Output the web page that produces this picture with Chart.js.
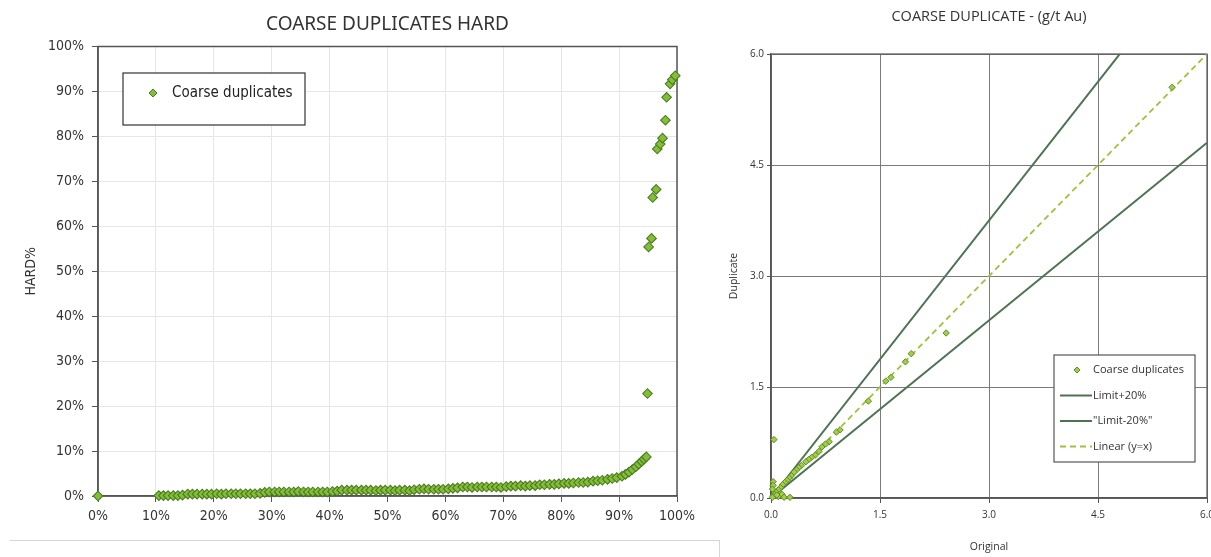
<!DOCTYPE html>
<html>
<head>
<meta charset="utf-8">
<script src="https://cdn.jsdelivr.net/npm/chart.js"></script>
<style>
  html, body { margin: 0; padding: 0; background: #fff; overflow: hidden; }
  #page { position: relative; width: 1211px; height: 557px; overflow: hidden; }
  #hardWrap { position: absolute; left: 0; top: 0; width: 720px; height: 557px; }
  #dupWrap { position: absolute; left: 720px; top: 0; width: 530px; height: 557px; }
  #footBox { position: absolute; left: 10px; top: 540px; width: 709px; height: 30px;
             border-top: 1.5px solid #d6d6d6; border-right: 1.5px solid #d6d6d6; }
</style>
</head>
<body>
<div id="page">
  <div id="hardWrap"><canvas id="hardChart" width="720" height="557"></canvas></div>
  <div id="dupWrap"><canvas id="dupChart" width="530" height="557"></canvas></div>
  <div id="footBox"></div>
</div>
<script>
// HARD plot: cumulative rank (%) vs HARD (%)
const hardRank = [0,
  10.5, 11.3, 12.1, 13.0, 13.8, 14.6, 15.5, 16.3, 17.1, 18.0, 18.8, 19.6, 20.5, 21.3, 22.1,
  23.0, 23.8, 24.6, 25.5, 26.3, 27.1, 28.0, 28.8, 29.6, 30.5, 31.3, 32.1, 33.0, 33.8, 34.6,
  35.5, 36.3, 37.1, 38.0, 38.8, 39.6, 40.5, 41.3, 42.1, 43.0, 43.8, 44.6, 45.5, 46.3, 47.1,
  48.0, 48.8, 49.6, 50.5, 51.3, 52.1, 53.0, 53.8, 54.6, 55.5, 56.3, 57.1, 58.0, 58.8, 59.6,
  60.5, 61.3, 62.1, 63.0, 63.8, 64.6, 65.5, 66.3, 67.1, 68.0, 68.8, 69.6, 70.5, 71.3, 72.1,
  73.0, 73.8, 74.6, 75.5, 76.3, 77.1, 78.0, 78.8, 79.6, 80.5, 81.3, 82.1, 83.0, 83.8, 84.6,
  85.5, 86.3, 87.1, 88.0, 88.8, 89.6, 90.5, 91.1, 91.7, 92.3, 92.9, 93.4, 93.9, 94.3, 94.7,
  94.9, 95.1, 95.6, 95.8, 96.4, 96.6, 97.1, 97.5, 98.0, 98.2, 98.8, 99.2, 99.7];
const hardPct = [0,
  0.1, 0.1, 0.1, 0.1, 0.1, 0.2, 0.4, 0.4, 0.4, 0.4, 0.4, 0.4, 0.5, 0.4, 0.5,
  0.5, 0.5, 0.5, 0.5, 0.5, 0.5, 0.6, 0.8, 0.9, 0.9, 0.9, 0.9, 0.9, 0.9, 1.0,
  0.9, 0.9, 0.9, 0.9, 0.9, 0.9, 1.0, 1.1, 1.3, 1.3, 1.3, 1.3, 1.3, 1.3, 1.3,
  1.2, 1.3, 1.3, 1.3, 1.2, 1.3, 1.3, 1.2, 1.4, 1.5, 1.6, 1.5, 1.5, 1.5, 1.5,
  1.6, 1.7, 1.8, 2.0, 2.0, 1.9, 2.0, 2.0, 2.0, 2.0, 2.0, 1.9, 2.1, 2.2, 2.2,
  2.3, 2.2, 2.3, 2.3, 2.5, 2.5, 2.6, 2.6, 2.7, 2.8, 2.8, 2.9, 3.0, 3.0, 3.1,
  3.3, 3.4, 3.5, 3.7, 3.9, 4.1, 4.4, 4.8, 5.3, 5.9, 6.5, 7.1, 7.7, 8.2, 8.7,
  22.8, 55.4, 57.3, 66.4, 68.2, 77.2, 78.3, 79.6, 83.6, 88.7, 91.7, 92.6, 93.5];
const hardTicks = [0, 10, 20, 30, 40, 50, 60, 70, 80, 90, 100];

// Duplicate plot: original vs duplicate grade (g/t Au)
const origAu = [5.52, 2.41, 1.93, 1.85, 1.65, 1.58, 1.34, 0.95, 0.90, 0.80, 0.75, 0.70, 0.66,
  0.61, 0.56, 0.52, 0.48, 0.42, 0.38, 0.35, 0.32, 0.28, 0.25, 0.22, 0.19, 0.16, 0.13, 0.10,
  0.07, 0.05, 0.03, 0.02, 0.04, 0.03, 0.03, 0.02, 0.10, 0.15, 0.18, 0.26, 0.08];
const dupAu = [5.55, 2.23, 1.95, 1.84, 1.63, 1.58, 1.31, 0.92, 0.89, 0.76, 0.73, 0.69, 0.63,
  0.58, 0.55, 0.52, 0.49, 0.44, 0.41, 0.38, 0.35, 0.30, 0.27, 0.24, 0.21, 0.18, 0.14, 0.11,
  0.08, 0.05, 0.03, 0.01, 0.79, 0.22, 0.17, 0.12, 0.02, 0.05, 0.01, 0.01, 0.04];
const limitX = [0, 6];
const upperLimit = [0, 7.5];   // y = x / 0.8
const lowerLimit = [0, 4.8];   // y = 0.8 x
const oneToOne = [0, 6];
const auTicks = [0, 1.5, 3.0, 4.5, 6.0];

const toPoints = (xs, ys) => xs.map((x, i) => ({ x: x, y: ys[i] }));

// frame round the plot area
const plotFrame = {
  id: 'plotFrame',
  beforeDatasetsDraw(chart, args, opts) {
    const a = chart.chartArea;
    const ctx = chart.ctx;
    ctx.save();
    ctx.strokeStyle = opts.color;
    ctx.lineWidth = opts.width;
    ctx.strokeRect(a.left, a.top, a.right - a.left, a.bottom - a.top);
    ctx.restore();
  }
};

function diamond(ctx, x, y, r) {
  ctx.beginPath();
  ctx.moveTo(x, y - r);
  ctx.lineTo(x + r, y);
  ctx.lineTo(x, y + r);
  ctx.lineTo(x - r, y);
  ctx.closePath();
  ctx.fill();
  ctx.stroke();
}

// boxed legend placed inside the plot
const boxLegend = {
  id: 'boxLegend',
  afterDraw(chart, args, opts) {
    const ctx = chart.ctx;
    ctx.save();
    ctx.fillStyle = '#fff';
    ctx.fillRect(opts.x, opts.y, opts.w, opts.h);
    ctx.strokeStyle = opts.border;
    ctx.lineWidth = 1.2;
    ctx.strokeRect(opts.x, opts.y, opts.w, opts.h);
    ctx.font = opts.font;
    ctx.textBaseline = 'middle';
    chart.data.datasets.forEach((ds, i) => {
      const y = opts.y + opts.first + i * opts.gap;
      if (ds.showLine) {
        ctx.strokeStyle = ds.borderColor;
        ctx.lineWidth = ds.borderWidth;
        ctx.setLineDash(ds.borderDash || []);
        ctx.beginPath();
        ctx.moveTo(opts.lineX0, y);
        ctx.lineTo(opts.lineX1, y);
        ctx.stroke();
        ctx.setLineDash([]);
      } else {
        ctx.fillStyle = ds.backgroundColor;
        ctx.strokeStyle = ds.borderColor;
        ctx.lineWidth = 1;
        diamond(ctx, opts.markX, y, opts.markR);
      }
      ctx.fillStyle = opts.color;
      ctx.fillText(ds.label, opts.textX, y);
    });
    ctx.restore();
  }
};

const leftFont = '"Liberation Sans Narrow", "DejaVu Sans Condensed", sans-serif';
const rightFont = '"Open Sans", "Noto Sans", sans-serif';

new Chart(document.getElementById('hardChart'), {
  type: 'scatter',
  data: {
    datasets: [{
      label: 'Coarse duplicates',
      data: toPoints(hardRank, hardPct),
      pointStyle: 'rectRot',
      pointRadius: 4.8,
      backgroundColor: '#83bf34',
      borderColor: '#4c7a25',
      pointBorderWidth: 1.1,
      clip: false
    }]
  },
  options: {
    responsive: false,
    animation: false,
    layout: { padding: { left: 0, right: 43, top: 0, bottom: 0 } },
    plugins: {
      legend: { display: false },
      tooltip: { enabled: false },
      title: {
        display: true,
        text: 'COARSE DUPLICATES HARD',
        fullSize: false,
        color: '#333',
        font: { family: '"Noto Sans", sans-serif', size: 19, weight: 'normal' },
        padding: { top: 13.6, bottom: 10.1 }
      },
      plotFrame: { color: '#555', width: 1.5 },
      boxLegend: {
        x: 123, y: 73, w: 182, h: 52, first: 20, gap: 24,
        markX: 153, markR: 4, textX: 172, lineX0: 0, lineX1: 0,
        font: '15px ' + leftFont, color: '#222', border: '#333'
      }
    },
    scales: {
      x: {
        type: 'linear', min: 0, max: 100,
        afterFit: s => { s.height = 61; },
        afterBuildTicks: s => { s.ticks = hardTicks.map(v => ({ value: v })); },
        grid: { color: '#e6e6e6', tickColor: '#555', tickLength: 6 },
        border: { color: '#555', width: 1.5 },
        ticks: { padding: 6, color: '#333', font: { family: leftFont, size: 14 }, callback: v => v + '%' }
      },
      y: {
        type: 'linear', min: 0, max: 100,
        afterFit: s => { s.width = 98; },
        afterBuildTicks: s => { s.ticks = hardTicks.map(v => ({ value: v })); },
        grid: { color: '#e6e6e6', tickColor: '#555', tickLength: 6 },
        border: { color: '#555', width: 1.5 },
        title: { display: true, text: 'HARD%', color: '#333', font: { family: leftFont, size: 14 }, padding: { top: 23, bottom: 0 } },
        ticks: { padding: 8, color: '#333', font: { family: leftFont, size: 14 }, callback: v => v + '%' }
      }
    }
  },
  plugins: [plotFrame, boxLegend]
});

new Chart(document.getElementById('dupChart'), {
  type: 'scatter',
  data: {
    datasets: [
      {
        label: 'Coarse duplicates',
        data: toPoints(origAu, dupAu),
        pointStyle: 'rectRot',
        pointRadius: 3.2,
        backgroundColor: '#a3cd46',
        borderColor: '#5d8c2a',
        pointBorderWidth: 1,
        clip: false,
        order: 0
      },
      {
        label: 'Limit+20%',
        data: toPoints(limitX, upperLimit),
        showLine: true, pointRadius: 0,
        borderColor: '#4d7352', borderWidth: 2, order: 1
      },
      {
        label: '"Limit-20%"',
        data: toPoints(limitX, lowerLimit),
        showLine: true, pointRadius: 0,
        borderColor: '#4d7352', borderWidth: 2, order: 1
      },
      {
        label: 'Linear (y=x)',
        data: toPoints(limitX, oneToOne),
        showLine: true, pointRadius: 0,
        borderColor: '#9cc43a', borderWidth: 1.8, borderDash: [6, 4], order: 1
      }
    ]
  },
  options: {
    responsive: false,
    animation: false,
    layout: { padding: { left: 0, right: 43, top: 0, bottom: 0 } },
    plugins: {
      legend: { display: false },
      tooltip: { enabled: false },
      title: {
        display: true,
        text: 'COARSE DUPLICATE - (g/t Au)',
        fullSize: false,
        color: '#333',
        font: { family: rightFont, size: 14.5, weight: 'normal' },
        padding: { top: 8.3, bottom: 28.3 }
      },
      plotFrame: { color: '#555', width: 1.2 },
      boxLegend: {
        x: 334, y: 355, w: 141, h: 107, first: 15, gap: 25.5,
        markX: 357, markR: 3, textX: 373, lineX0: 340, lineX1: 372,
        font: '11px ' + rightFont, color: '#333', border: '#555'
      }
    },
    scales: {
      x: {
        type: 'linear', min: 0, max: 6,
        afterFit: s => { s.height = 59; },
        afterBuildTicks: s => { s.ticks = auTicks.map(v => ({ value: v })); },
        grid: { color: '#7a7a7a', tickColor: '#555', tickLength: 5 },
        border: { color: '#555', width: 1.2 },
        title: { display: true, text: 'Original', color: '#333', font: { family: rightFont, size: 10.5 }, padding: { top: 0, bottom: 4 } },
        ticks: { padding: 6, color: '#333', font: { family: rightFont, size: 10 }, callback: v => v.toFixed(1) }
      },
      y: {
        type: 'linear', min: 0, max: 6,
        afterFit: s => { s.width = 51; },
        afterBuildTicks: s => { s.ticks = auTicks.map(v => ({ value: v })); },
        grid: { color: '#7a7a7a', tickColor: '#555', tickLength: 4 },
        border: { color: '#555', width: 1.2 },
        title: { display: true, text: 'Duplicate', color: '#333', font: { family: rightFont, size: 10.5 }, padding: { top: 8, bottom: 0 } },
        ticks: { padding: 3, color: '#333', font: { family: rightFont, size: 10 }, callback: v => v.toFixed(1) }
      }
    }
  },
  plugins: [plotFrame, boxLegend]
});
</script>
</body>
</html>
